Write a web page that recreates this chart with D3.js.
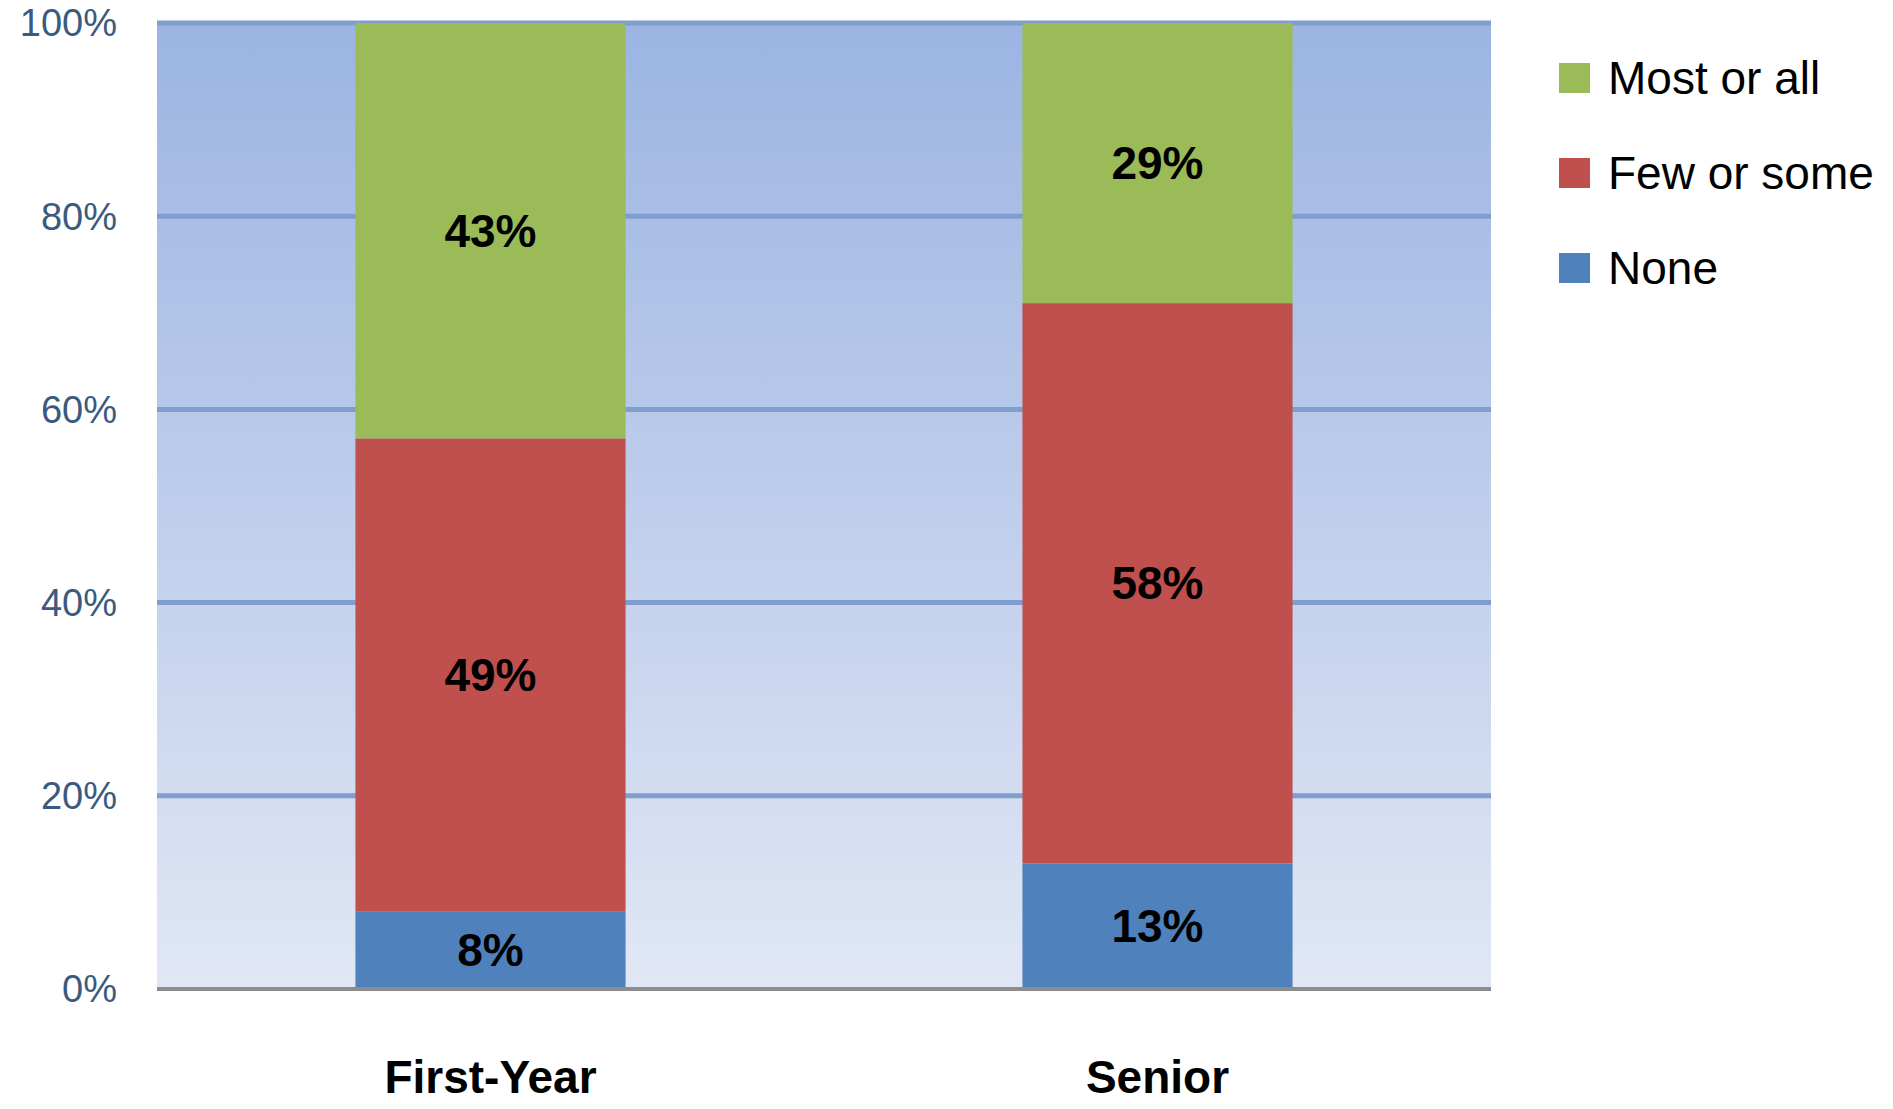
<!DOCTYPE html>
<html>
<head>
<meta charset="utf-8">
<script src="https://cdn.jsdelivr.net/npm/d3@7"></script>
<style>
body { margin: 0; background: #fff; }
svg text { font-family: "Liberation Sans Narrow", "Liberation Sans", Arial, sans-serif; }
</style>
</head>
<body>
<svg id="chart" width="1893" height="1109"></svg>
<script>
// categories and series (percent)
var categories = ["First-Year", "Senior"];
var series = ["None", "Few or some", "Most or all"];
var none_vals = [8, 13];
var few_vals = [49, 58];
var most_vals = [43, 29];
var y_ticks = [0, 20, 40, 60, 80, 100];
var colors = ["#4f81bd", "#c0504d", "#9bbb59"];

var svg = d3.select("#chart");

var margin = {left: 157, top: 23, right: 402, bottom: 120};
var width = 1893 - margin.left - margin.right,
	height = 1109 - margin.top - margin.bottom;

var x_scale = d3.scaleBand()
	.domain(categories)
	.range([0, width])
	.paddingInner(0.595)
	.paddingOuter(0.2975);

var y_scale = d3.scaleLinear()
	.domain([0, 100])
	.range([height, 0]);

var defs = svg.append("defs");
var grad = defs.append("linearGradient")
	.attr("id", "bg")
	.attr("x1", 0).attr("y1", 0).attr("x2", 0).attr("y2", 1);
grad.append("stop").attr("offset", "0%").attr("stop-color", "#9bb4e2");
grad.append("stop").attr("offset", "100%").attr("stop-color", "#e1e7f5");

var g = svg.append("g")
	.attr("transform", "translate(" + margin.left + "," + margin.top + ")");

g.append("rect")
	.attr("width", width)
	.attr("height", height)
	.attr("fill", "url(#bg)");

// grid
g.selectAll(".grid")
	.data(y_ticks.slice(1))
	.enter().append("line")
	.attr("x1", 0)
	.attr("x2", width)
	.attr("y1", function(d){ return y_scale(d) })
	.attr("y2", function(d){ return y_scale(d) })
	.attr("stroke", "#7f9dcd")
	.attr("stroke-width", 5);

// stack data
var rows = categories.map(function(c, i) {
	return {cat: c, "None": none_vals[i], "Few or some": few_vals[i], "Most or all": most_vals[i]};
});
var stacked = d3.stack().keys(series)(rows);

var layers = g.selectAll(".layer")
	.data(stacked)
	.enter().append("g")
	.attr("fill", function(d, i){ return colors[i] });

layers.selectAll("rect")
	.data(function(d){ return d })
	.enter().append("rect")
	.attr("x", function(d){ return x_scale(d.data.cat) })
	.attr("width", x_scale.bandwidth())
	.attr("y", function(d){ return y_scale(d[1]) })
	.attr("height", function(d){ return y_scale(d[0]) - y_scale(d[1]) });

layers.selectAll("text")
	.data(function(d){ return d })
	.enter().append("text")
	.attr("x", function(d){ return x_scale(d.data.cat) + x_scale.bandwidth()/2 })
	.attr("y", function(d){ return y_scale((d[0] + d[1])/2) })
	.attr("dy", "0.35em")
	.attr("text-anchor", "middle")
	.attr("fill", "#000")
	.attr("font-weight", "bold")
	.attr("font-size", 46)
	.text(function(d){ return (d[1] - d[0]) + "%" });

// bottom axis line
g.append("line")
	.attr("x1", 0).attr("x2", width)
	.attr("y1", height).attr("y2", height)
	.attr("stroke", "#8c8c8c")
	.attr("stroke-width", 4);

// y tick labels
g.selectAll(".ytick")
	.data(y_ticks)
	.enter().append("text")
	.attr("x", -40)
	.attr("y", function(d){ return y_scale(d) })
	.attr("dy", "0.35em")
	.attr("text-anchor", "end")
	.attr("fill", "#3a5a80")
	.attr("font-size", 38)
	.text(function(d){ return d + "%" });

// category labels
g.selectAll(".xlab")
	.data(categories)
	.enter().append("text")
	.attr("x", function(d){ return x_scale(d) + x_scale.bandwidth()/2 })
	.attr("y", height + 104)
	.attr("text-anchor", "middle")
	.attr("fill", "#000")
	.attr("font-weight", "bold")
	.attr("font-size", 46)
	.text(function(d){ return d });

// legend
var legend_items = series.slice().reverse();
var legend = svg.append("g")
	.attr("transform", "translate(1559,78)");
var li = legend.selectAll("g")
	.data(legend_items)
	.enter().append("g")
	.attr("transform", function(d, i){ return "translate(0," + (i*95) + ")" });
li.append("rect")
	.attr("x", 0).attr("y", -15)
	.attr("width", 31).attr("height", 30)
	.attr("fill", function(d){ return colors[series.indexOf(d)] });
li.append("text")
	.attr("x", 49)
	.attr("dy", "0.35em")
	.attr("font-size", 46)
	.attr("fill", "#000")
	.text(function(d){ return d });
</script>
</body>
</html>
